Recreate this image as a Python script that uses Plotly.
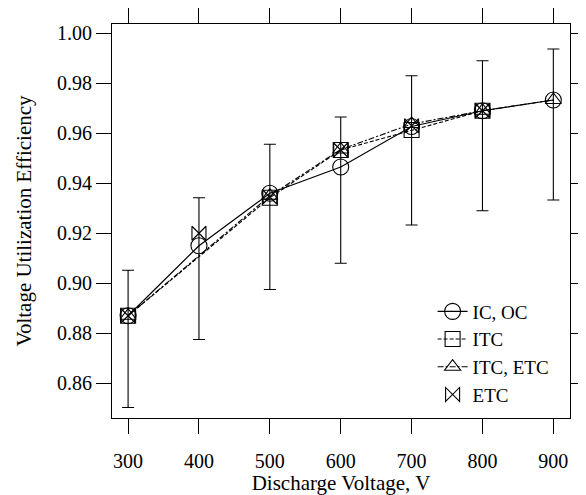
import plotly.graph_objects as go

# ---- data ----
voltage = [300, 400, 500, 600, 700, 800, 900]
ic_oc = [0.887, 0.915, 0.936, 0.9465, 0.9627, 0.969, 0.9733]
err_upper = [0.9052, 0.9342, 0.9556, 0.9665, 0.983, 0.989, 0.9937]
err_lower = [0.8503, 0.8775, 0.8975, 0.908, 0.9233, 0.929, 0.9333]
itc = [0.887, None, 0.9342, 0.9533, 0.9613, 0.969, None]
itc_etc = [0.887, None, 0.935, 0.9535, 0.9637, 0.969, 0.9733]
etc = [0.887, 0.920, 0.9345, 0.9533, 0.963, 0.969, None]

FONT = "Liberation Serif, Times New Roman, serif"

err_plus = [u - v for u, v in zip(err_upper, ic_oc)]
err_minus = [v - l for v, l in zip(ic_oc, err_lower)]

fig = go.Figure()

fig.add_trace(go.Scatter(
    x=voltage, y=ic_oc, name="IC, OC", mode="lines+markers",
    line=dict(color="black", width=1.2),
    marker=dict(symbol="circle-open", size=16, color="black", line=dict(width=1.1)),
    error_y=dict(type="data", symmetric=False, array=err_plus, arrayminus=err_minus,
                 color="black", thickness=1.1, width=6),
))
fig.add_trace(go.Scatter(
    x=voltage, y=itc, name="ITC", mode="lines+markers", connectgaps=True,
    line=dict(color="black", width=1.1, dash="4px,2px"),
    marker=dict(symbol="square-open", size=15, color="black", line=dict(width=1.1)),
))
fig.add_trace(go.Scatter(
    x=voltage, y=itc_etc, name="ITC, ETC", mode="lines+markers", connectgaps=True,
    line=dict(color="black", width=1.1, dash="6px,2px,2px,2px"),
    marker=dict(symbol="triangle-up-open", size=14, color="black", line=dict(width=1.1)),
))
fig.add_trace(go.Scatter(
    x=voltage, y=etc, name="ETC", mode="markers",
    marker=dict(symbol="bowtie-open", size=14, color="black", line=dict(width=1.1)),
))

yrange = [0.8461, 1.0037]

# page body has an 8px default margin: figure is sized/offset to compensate
fig.update_layout(
    width=578, height=487,
    margin=dict(l=104, r=16, t=16, b=77),
    paper_bgcolor="white", plot_bgcolor="white",
    font=dict(family=FONT, size=20, color="black"),
    showlegend=True,
    legend=dict(x=0.70, y=0.3185, xanchor="left", yanchor="top",
                bgcolor="rgba(0,0,0,0)", font=dict(family=FONT, size=19, color="black"),
                tracegroupgap=0, itemwidth=30),
    xaxis=dict(
        range=[277.3, 923.5], tickvals=voltage, ticktext=[str(v) for v in voltage],
        ticks="outside", ticklen=15, tickwidth=1, tickcolor="black",
        showline=True, linecolor="black", linewidth=1, mirror="allticks",
        showgrid=False, zeroline=False, automargin=False, ticklabelstandoff=10,
        tickfont=dict(family=FONT, size=20, color="black"),
        title=dict(text="Discharge Voltage, V", font=dict(family=FONT, size=21, color="black"), standoff=6),
    ),
    yaxis=dict(
        range=yrange, dtick=0.02, tick0=0.86, tickformat=".2f",
        ticks="outside", ticklen=15, tickwidth=1, tickcolor="black",
        showline=True, linecolor="black", linewidth=1, mirror="allticks",
        showgrid=False, zeroline=False, automargin=False,
        tickfont=dict(family=FONT, size=20, color="black"),
        title=dict(text="Voltage Utilization Efficiency", font=dict(family=FONT, size=21, color="black"), standoff=19),
    ),
    yaxis2=dict(
        overlaying="y", range=yrange, dtick=0.005, tick0=0.85,
        ticks="outside", ticklen=9, tickwidth=1, tickcolor="black",
        showticklabels=False, showline=False, mirror="allticks",
        showgrid=False, zeroline=False, automargin=False,
    ),
)

fig.write_html("out.html")
